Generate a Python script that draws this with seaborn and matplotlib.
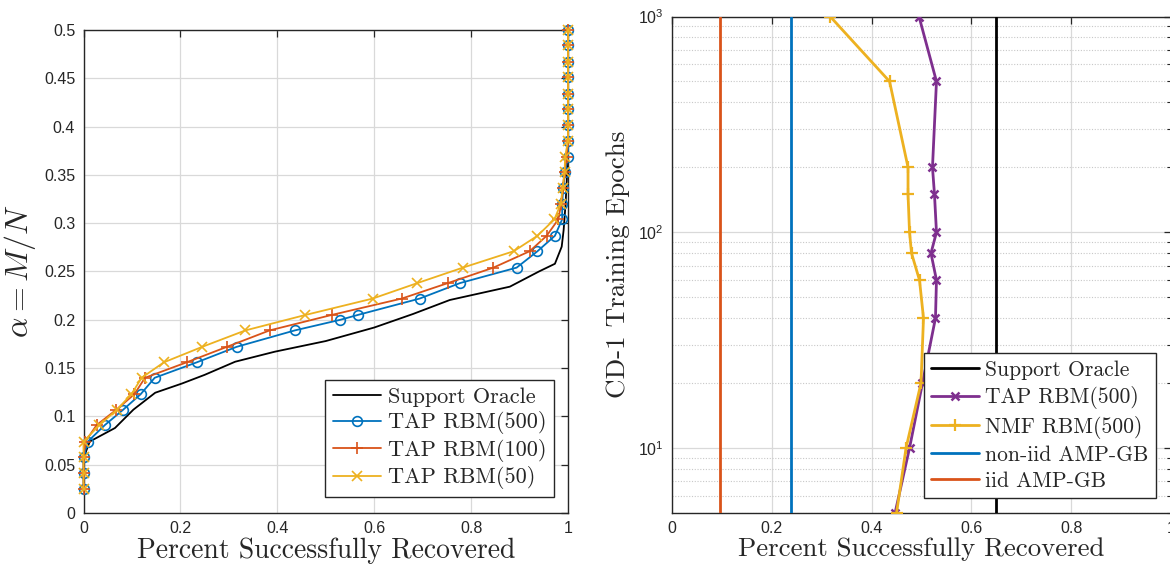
import numpy as np
import pandas as pd
import matplotlib
matplotlib.use("Agg")
import matplotlib.pyplot as plt
import seaborn as sns
from matplotlib.ticker import FuncFormatter, MultipleLocator, LogLocator, NullFormatter

# ---------------- data: left panel ----------------
alpha_vals = [0.025, 0.041, 0.058, 0.074, 0.091, 0.107, 0.123, 0.140, 0.156, 0.172,
              0.189, 0.205, 0.222, 0.238, 0.254, 0.271, 0.287, 0.304, 0.320, 0.336,
              0.353, 0.369, 0.385, 0.402, 0.418, 0.434, 0.451, 0.467, 0.484, 0.500]

tap500_alpha = [0.025, 0.041, 0.058, 0.074, 0.091, 0.107, 0.123, 0.140, 0.156, 0.172,
                0.189, 0.200, 0.205, 0.222, 0.238, 0.254, 0.271, 0.287, 0.304, 0.320,
                0.336, 0.353, 0.369, 0.385, 0.402, 0.418, 0.434, 0.451, 0.467, 0.484, 0.500]
tap500_pct = [0.0, 0.0, 0.0, 0.009, 0.044, 0.082, 0.118, 0.147, 0.234, 0.316,
              0.436, 0.530, 0.566, 0.694, 0.777, 0.894, 0.937, 0.973, 0.988, 0.988,
              0.990, 0.994, 1.0, 1.0, 1.0, 1.0, 1.0, 1.0, 1.0, 1.0, 1.0]

tap100_pct = [0.0, 0.0, 0.0, 0.004, 0.027, 0.068, 0.105, 0.127, 0.213, 0.296,
              0.384, 0.512, 0.657, 0.752, 0.846, 0.921, 0.956, 0.980, 0.986, 0.989,
              0.993, 0.997, 1.0, 1.0, 1.0, 1.0, 1.0, 1.0, 1.0, 1.0]

tap50_pct = [0.0, 0.0, 0.0, 0.0, 0.033, 0.069, 0.099, 0.120, 0.166, 0.245,
             0.334, 0.458, 0.597, 0.689, 0.783, 0.888, 0.937, 0.972, 0.985, 0.989,
             0.993, 0.994, 1.0, 1.0, 1.0, 1.0, 1.0, 1.0, 1.0, 1.0]

oracle_pct = [0.0, 0.0, 0.013, 0.065, 0.103, 0.148, 0.203, 0.250, 0.313, 0.395,
              0.500, 0.600, 0.680, 0.756, 0.880, 0.940, 0.973, 0.987, 0.991, 0.995,
              0.9975, 1.0, 1.0]
oracle_alpha = [0.025, 0.057, 0.074, 0.088, 0.107, 0.1245, 0.134, 0.143, 0.1566, 0.167,
                0.178, 0.192, 0.206, 0.2205, 0.2343, 0.250, 0.258, 0.2757, 0.293, 0.320,
                0.345, 0.370, 0.500]

# ---------------- data: right panel ----------------
epochs = [5, 10, 20, 40, 60, 80, 100, 150, 200, 500, 1000]
tap_rbm500_pct = [0.447, 0.476, 0.502, 0.528, 0.530, 0.519, 0.530, 0.526, 0.522, 0.530, 0.495]
nmf_rbm500_pct = [0.450, 0.469, 0.499, 0.504, 0.496, 0.480, 0.476, 0.473, 0.473, 0.436, 0.317]
support_oracle_level = 0.650
noniid_amp_level = 0.239
iid_amp_level = 0.096

# ---------------- style ----------------
sns.set_theme(style="white")
plt.rcParams["font.family"] = ["Liberation Sans", "DejaVu Sans"]
plt.rcParams["mathtext.fontset"] = "cm"
plt.rcParams["axes.unicode_minus"] = False

C_BLUE = "#0072BD"
C_RED = "#D95319"
C_YEL = "#EDB120"
C_PUR = "#7E2F8E"
AX_C = "#262626"
GRID_C = "#d9d9d9"

SERIF = "cmr10"

fig = plt.figure(figsize=(11.7, 5.67), dpi=100)
W, H = 1170.0, 567.0
axL = fig.add_axes([83.5 / W, 1 - 513 / H, (568 - 83.5) / W, (513 - 30) / H])
axR = fig.add_axes([672 / W, 1 - 513 / H, (1171 - 672) / W, (513 - 16.5) / H])


def style_axes(ax):
    for s in ax.spines.values():
        s.set_color(AX_C)
        s.set_linewidth(1.0)
        s.set_visible(True)
        s.set_zorder(1.5)
    ax.tick_params(which="both", direction="in", top=True, right=True,
                   colors=AX_C, labelcolor="#262626", labelsize=11.5, pad=6)
    ax.tick_params(which="major", length=5, width=0.9)
    ax.tick_params(which="minor", length=3, width=0.8)


# ---------------- left panel ----------------
dfo = pd.DataFrame({"pct": oracle_pct, "alpha": oracle_alpha})
df5 = pd.DataFrame({"pct": tap500_pct, "alpha": tap500_alpha})
df1 = pd.DataFrame({"pct": tap100_pct, "alpha": alpha_vals})
df50 = pd.DataFrame({"pct": tap50_pct, "alpha": alpha_vals})

sns.lineplot(data=dfo, x="pct", y="alpha", sort=False, estimator=None, ax=axL,
             color="black", lw=1.3, label="Support Oracle")
sns.lineplot(data=df5, x="pct", y="alpha", sort=False, estimator=None, ax=axL,
             color=C_BLUE, lw=1.3, marker="o", markersize=7, markerfacecolor="none",
             markeredgecolor=C_BLUE, markeredgewidth=1.2, label="TAP RBM(500)",
             clip_on=False, zorder=3)
sns.lineplot(data=df1, x="pct", y="alpha", sort=False, estimator=None, ax=axL,
             color=C_RED, lw=1.3, marker="+", markersize=8,
             markeredgecolor=C_RED, markeredgewidth=1.2, label="TAP RBM(100)",
             clip_on=False, zorder=3)
sns.lineplot(data=df50, x="pct", y="alpha", sort=False, estimator=None, ax=axL,
             color=C_YEL, lw=1.3, marker="x", markersize=6.5,
             markeredgecolor=C_YEL, markeredgewidth=1.2, label="TAP RBM(50)",
             clip_on=False, zorder=3)

axL.set_xlim(0, 1)
axL.set_ylim(0, 0.5)
axL.xaxis.set_major_locator(MultipleLocator(0.2))
axL.yaxis.set_major_locator(MultipleLocator(0.05))
fmt = FuncFormatter(lambda v, p: ("%g" % round(v, 4)))
axL.xaxis.set_major_formatter(fmt)
axL.yaxis.set_major_formatter(fmt)
axL.grid(True, which="major", color=GRID_C, lw=0.9)
axL.set_axisbelow(True)
style_axes(axL)
axL.set_xlabel("Percent Successfully Recovered", family=SERIF, fontsize=20, labelpad=1)
axL.set_ylabel(r"$\alpha = M/N$", fontsize=23, labelpad=4)

legL = axL.legend(loc="lower right", bbox_to_anchor=(0.972, 0.033), borderaxespad=0,
                  frameon=True, fancybox=False, edgecolor="#262626", framealpha=1,
                  prop={"family": SERIF, "size": 16}, handlelength=2.2,
                  handletextpad=0.3, labelspacing=0.2, borderpad=0.35)
legL.get_frame().set_linewidth(1.0)
legL.set_zorder(5)

# ---------------- right panel ----------------
dft = pd.DataFrame({"pct": tap_rbm500_pct, "epochs": epochs})
dfn = pd.DataFrame({"pct": nmf_rbm500_pct, "epochs": epochs})

axR.axvline(support_oracle_level, color="black", lw=2.0, label="Support Oracle")
sns.lineplot(data=dft, x="pct", y="epochs", sort=False, estimator=None, ax=axR,
             color=C_PUR, lw=2.0, marker="x", markersize=5.5,
             markeredgecolor=C_PUR, markeredgewidth=1.8, label="TAP RBM(500)")
sns.lineplot(data=dfn, x="pct", y="epochs", sort=False, estimator=None, ax=axR,
             color=C_YEL, lw=2.0, marker="+", markersize=9,
             markeredgecolor=C_YEL, markeredgewidth=1.6, label="NMF RBM(500)")
axR.axvline(noniid_amp_level, color=C_BLUE, lw=2.0, label="non-iid AMP-GB")
axR.axvline(iid_amp_level, color=C_RED, lw=2.0, label="iid AMP-GB")

axR.set_yscale("log")
axR.set_xlim(0, 1)
axR.set_ylim(5, 1000)
axR.xaxis.set_major_locator(MultipleLocator(0.2))
axR.xaxis.set_major_formatter(fmt)
axR.yaxis.set_major_locator(LogLocator(base=10, numticks=10))
axR.yaxis.set_minor_locator(LogLocator(base=10, subs=np.arange(2, 10), numticks=20))
axR.yaxis.set_minor_formatter(NullFormatter())
axR.grid(True, which="major", color=GRID_C, lw=0.9)
axR.grid(True, which="minor", axis="y", color="#c8c8c8", lw=0.8, ls=(0, (1, 1.5)))
axR.set_axisbelow(True)
style_axes(axR)
axR.set_xlabel("Percent Successfully Recovered", family=SERIF, fontsize=19.3, labelpad=1)
axR.set_ylabel("CD-1 Training Epochs", family=SERIF, fontsize=19.5, labelpad=6)

legR = axR.legend(loc="lower right", bbox_to_anchor=(0.970, 0.030), borderaxespad=0,
                  frameon=True, fancybox=False, edgecolor="#262626", framealpha=1,
                  prop={"family": SERIF, "size": 15.5}, handlelength=2.2,
                  handletextpad=0.3, labelspacing=0.3, borderpad=0.35)
legR.get_frame().set_linewidth(1.0)

fig.savefig("out.png", dpi=100)
